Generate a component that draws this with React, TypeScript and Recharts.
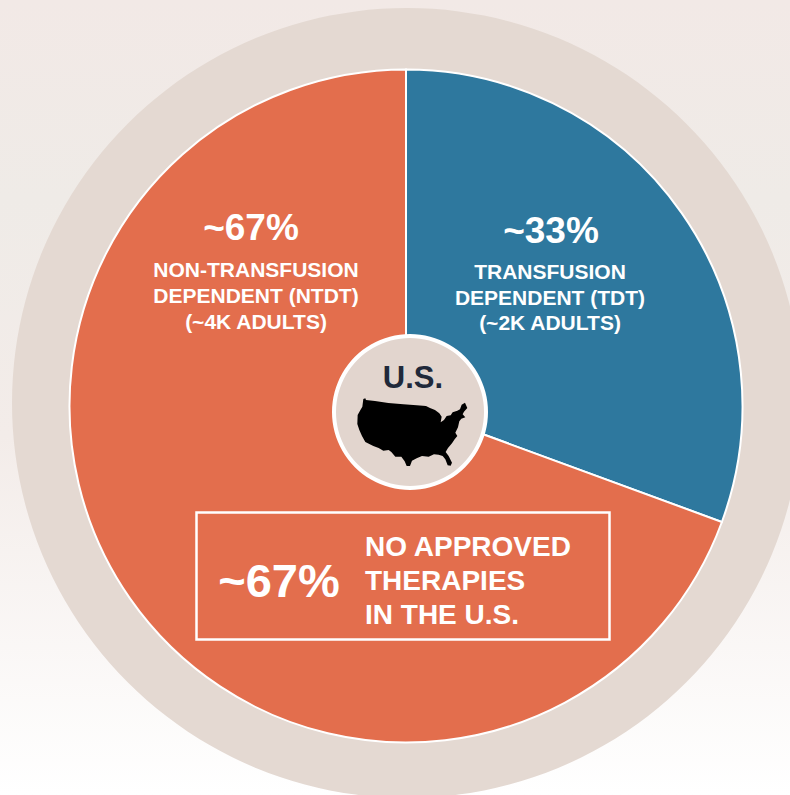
import { PieChart, Pie, Cell } from "recharts";

// slices as drawn: the blue wedge spans about 110 degrees even though its label says ~33%
const sliceNames = ["Transfusion dependent", "Non-transfusion dependent"];
const sliceValues = [30.6, 69.4];
const sliceColors = ["#2E789E", "#E36E4D"];
const ringValues = [100];
const hubValues = [100];

const sliceData = sliceNames.map((name, i) => ({ name, value: sliceValues[i] }));
const ringData = ringValues.map((value) => ({ name: "ring", value }));
const hubData = hubValues.map((value) => ({ name: "hub", value }));

const ntdtLines = ["NON-TRANSFUSION", "DEPENDENT (NTDT)", "(~4K ADULTS)"];
const tdtLines = ["TRANSFUSION", "DEPENDENT (TDT)", "(~2K ADULTS)"];
const boxLines = ["NO APPROVED", "THERAPIES", "IN THE U.S."];

const SANS = "'Liberation Sans', Arial, sans-serif";

const US_OUTLINE =
    "M130 237 L136 235 L138 240 L165 243 L205 249 L250 253 L290 256 L318 258 L330 264 L345 270 L358 280 L365 290 L362 307 L372 300 L380 288 L392 286 L398 277 L412 272 L420 268 L425 254 L435 248 L442 264 L432 275 L428 283 L436 292 L424 296 L418 304 L414 322 L406 338 L412 348 L404 358 L396 370 L384 384 L377 396 L386 408 L396 428 L392 437 L383 436 L376 418 L368 408 L356 404 L342 403 L326 410 L306 408 L290 415 L276 422 L270 438 L260 438 L254 424 L244 410 L226 410 L214 396 L206 390 L190 392 L176 384 L160 378 L136 366 L126 348 L118 330 L112 312 L113 285 L120 272 L127 260 Z";

export default function App() {
    return (
        <div
            style={{
                position: "absolute",
                left: 0,
                top: 0,
                width: 790,
                height: 795,
                overflow: "hidden",
                background: "linear-gradient(180deg, #f2e9e6 0%, #efebe7 25%, #f3ece9 55%, #ffffff 100%)",
            }}
        >
            <PieChart width={790} height={795} margin={{ top: 0, right: 0, bottom: 0, left: 0 }}>
                <Pie
                    data={ringData}
                    dataKey="value"
                    cx={407}
                    cy={403}
                    outerRadius={395}
                    startAngle={90}
                    endAngle={-270}
                    fill="#E4D9D2"
                    stroke="none"
                    isAnimationActive={false}
                />
                <Pie
                    data={sliceData}
                    dataKey="value"
                    cx={406}
                    cy={406}
                    outerRadius={336.5}
                    startAngle={90}
                    endAngle={-270}
                    stroke="#ffffff"
                    strokeWidth={2}
                    isAnimationActive={false}
                >
                    {sliceData.map((d, i) => (
                        <Cell key={d.name} fill={sliceColors[i]} />
                    ))}
                </Pie>
                {/* white disc under the hub gives it a border without a seam at the start angle */}
                <Pie
                    data={hubData}
                    dataKey="value"
                    cx={410}
                    cy={412}
                    outerRadius={78}
                    startAngle={90}
                    endAngle={-270}
                    fill="#ffffff"
                    stroke="none"
                    isAnimationActive={false}
                />
                <Pie
                    data={hubData}
                    dataKey="value"
                    cx={410}
                    cy={412}
                    outerRadius={74}
                    startAngle={90}
                    endAngle={-270}
                    fill="#E2D5CE"
                    stroke="none"
                    isAnimationActive={false}
                />
            </PieChart>

            {/* labels and the U.S. outline sit over the chart */}
            <svg width={790} height={795} style={{ position: "absolute", left: 0, top: 0 }}>
                <g fill="#ffffff" fontFamily={SANS} fontWeight="bold" textAnchor="middle">
                    <text x={251} y={240} fontSize={37}>~67%</text>
                    {ntdtLines.map((line, i) => (
                        <text key={line} x={256} y={277 + i * 26} fontSize={21}>{line}</text>
                    ))}
                    <text x={551} y={243} fontSize={37}>~33%</text>
                    {tdtLines.map((line, i) => (
                        <text key={line} x={550} y={279 + i * 25.5} fontSize={21}>{line}</text>
                    ))}
                </g>
                <rect x={196.5} y={512.5} width={413} height={127} fill="none" stroke="#ffffff" strokeWidth={2.5} />
                <text x={279} y={597} fill="#ffffff" fontFamily={SANS} fontWeight="bold" fontSize={47} textAnchor="middle">~67%</text>
                {boxLines.map((line, i) => (
                    <text key={line} x={365} y={556 + i * 34} fill="#ffffff" fontFamily={SANS} fontWeight="bold" fontSize={28}>{line}</text>
                ))}
                <text x={413} y={388} fill="#20293A" fontFamily={SANS} fontWeight="bold" fontSize={31} textAnchor="middle">U.S.</text>
                <path d={US_OUTLINE} transform="translate(320 320) scale(0.3333)" fill="#000000" />
            </svg>
        </div>
    );
}
